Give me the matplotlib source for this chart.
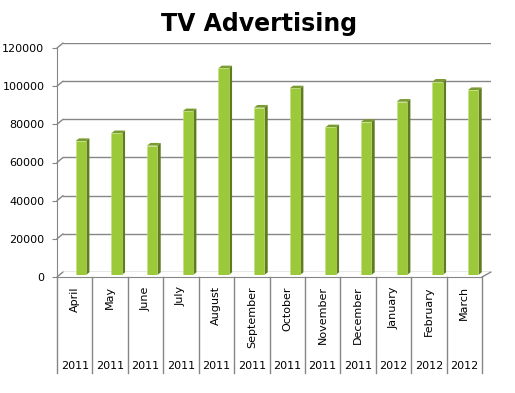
import matplotlib
matplotlib.use('Agg')
import matplotlib.pyplot as plt
from matplotlib.patches import Polygon, ConnectionPatch
import matplotlib.transforms as mtransforms

months = ['April', 'May', 'June', 'July', 'August', 'September', 'October',
          'November', 'December', 'January', 'February', 'March']
years = ['2011'] * 9 + ['2012'] * 3
spend = [70200, 74300, 67800, 85800, 108300, 87700, 97800,
         77400, 80200, 90800, 101300, 96900]
yticks = [0, 20000, 40000, 60000, 80000, 100000, 120000]

W, H = 515, 393
grid_col = '#868686'
face_col = '#9bc93a'
side_col = '#5f7d1e'
top_col = '#7a9b30'


def box(x0, y0, x1, y1):
    # pixel box (top-left origin) -> figure fraction rect
    return [x0 / W, 1 - y1 / H, (x1 - x0) / W, (y1 - y0) / H]


fig = plt.figure(figsize=(W / 100, H / 100), dpi=100)
fig.patch.set_facecolor('white')

n = len(months)

# back wall with gridlines
back = fig.add_axes(box(63, 43, 491, 272))
back.set_xlim(-0.5, n - 0.5)
back.set_ylim(0, 120000)
for v in yticks:
    back.axhline(v, color=grid_col, lw=1)
back.axis('off')

# front axis: ticks, labels, floor edge
front = fig.add_axes(box(57, 48, 482, 277))
front.set_xlim(-0.5, n - 0.5)
front.set_ylim(0, 120000)
front.patch.set_alpha(0)
for s in ['top', 'right']:
    front.spines[s].set_visible(False)
for s in ['left', 'bottom']:
    front.spines[s].set_color(grid_col)
front.set_yticks(yticks)
front.set_yticklabels([str(v) for v in yticks], fontsize=8)
front.tick_params(axis='y', length=3.6, color=grid_col, pad=5.5)
front.set_xticks([])

# diagonals between front axis and back wall
for v in yticks:
    con = ConnectionPatch(xyA=(-0.5, v), coordsA=front.transData,
                          xyB=(-0.5, v), coordsB=back.transData,
                          color=grid_col, lw=1)
    fig.add_artist(con)
con = ConnectionPatch(xyA=(n - 0.5, 0), coordsA=front.transData,
                      xyB=(n - 0.5, 0), coordsB=back.transData,
                      color=grid_col, lw=1)
fig.add_artist(con)

# category labels below the floor
blend = mtransforms.blended_transform_factory(front.transData, front.transAxes)
for i in range(n + 1):
    front.plot([i - 0.5, i - 0.5], [0, -0.42], color=grid_col, lw=1,
               transform=blend, clip_on=False)
for i, (m, y) in enumerate(zip(months, years)):
    front.text(i, -0.04, m, rotation=90, ha='center', va='top',
               fontsize=8, transform=blend)
    front.text(i, -0.39, y, ha='center', va='center', fontsize=8,
               transform=blend)

# bars
bars = fig.add_axes(box(63, 46, 491, 275))
bars.set_xlim(-0.5, n - 0.5)
bars.set_ylim(0, 120000)
bars.axis('off')
bw = 0.29
ddx = 0.095
ddy = 1400
bars.bar(range(n), spend, width=bw, color=face_col, edgecolor='#c2e07f',
         lw=0.4, zorder=3)
for i, v in enumerate(spend):
    r = i + bw / 2
    l = i - bw / 2
    bars.add_patch(Polygon([(r, 0), (r, v), (r + ddx, v + ddy), (r + ddx, ddy)],
                           closed=True, fc=side_col, ec='none', zorder=2))
    bars.add_patch(Polygon([(l, v), (r, v), (r + ddx, v + ddy), (l + ddx, v + ddy)],
                           closed=True, fc=top_col, ec='none', zorder=2))

fig.text(259.5 / W, 1 - 24 / H, 'TV Advertising', ha='center', va='center',
         fontsize=17, fontweight='bold')

fig.savefig('out.png', dpi=100, facecolor='white')
